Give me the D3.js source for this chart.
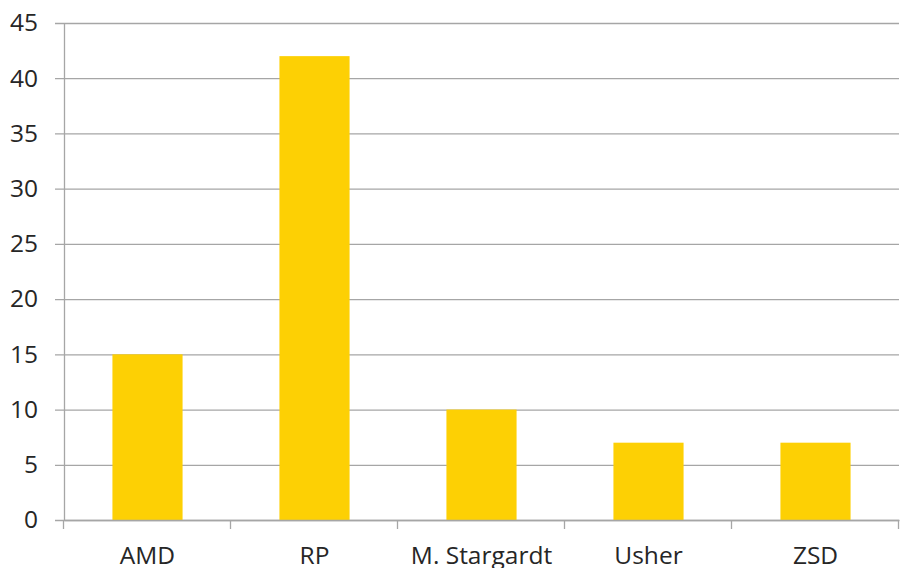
<!DOCTYPE html>
<html>
<head>
<meta charset="utf-8">
<script src="https://cdn.jsdelivr.net/npm/d3@7"></script>
<style>
  body { margin: 0; background: #fff; }
  svg { display: block; }
</style>
</head>
<body>
<script>
// chart data
const categories = ['AMD', 'RP', 'M. Stargardt', 'Usher', 'ZSD']
const values = [15, 42, 10, 7, 7]
const yTicks = [0, 5, 10, 15, 20, 25, 30, 35, 40, 45]

const width = 901
const height = 568
const margin = { top: 23, right: 2, bottom: 48, left: 64 }

const svg = d3.select('body')
  .append('svg')
    .attr('width', width)
    .attr('height', height)

const x = d3.scaleBand()
  .domain(categories)
  .range([ margin.left, width - margin.right ])
  .padding(0)

const y = d3.scaleLinear()
  .domain([ 0, 45 ])
  .range([ height - margin.bottom, margin.top ])

const gridColor = '#a6a6a6'
const fontFamily = '"Open Sans", "Noto Sans", sans-serif'
const fontSize = 24.5

// gridlines + y ticks
const yAxis = d3.axisLeft(y)
  .tickValues(yTicks)
  .tickSize(-(width - margin.right - margin.left))
  .tickPadding(26)

const gy = svg.append('g')
  .attr('transform', `translate(${margin.left},0)`)
  .call(yAxis)
  .attr('font-family', fontFamily)
  .attr('font-size', fontSize)
gy.select('.domain').remove()
gy.selectAll('.tick line')
  .attr('stroke', gridColor)
  .attr('stroke-width', 1.3)
  .attr('x1', -9)
gy.selectAll('.tick text')
  .attr('fill', '#262626')

// y axis line
svg.append('line')
  .attr('x1', margin.left + 0.5).attr('x2', margin.left + 0.5)
  .attr('y1', y(45)).attr('y2', y(0))
  .attr('stroke', gridColor)
  .attr('stroke-width', 1.3)

// bars
const barFrac = 0.42
svg.selectAll('.bar')
  .data(values)
  .enter()
  .append('rect')
    .attr('class', 'bar')
    .attr('x', (d, i) => x(categories[i]) + x.bandwidth() * (1 - barFrac) / 2)
    .attr('width', x.bandwidth() * barFrac)
    .attr('y', d => y(d))
    .attr('height', d => y(0) - y(d))
    .attr('fill', '#fdd004')

// x axis
const xAxis = d3.axisBottom(x).tickSize(0).tickPadding(27)
const gx = svg.append('g')
  .attr('transform', `translate(0,${y(0)})`)
  .call(xAxis)
  .attr('font-family', fontFamily)
  .attr('font-size', fontSize)
gx.select('.domain')
  .attr('stroke', gridColor)
  .attr('stroke-width', 1.3)
gx.selectAll('.tick text')
  .attr('fill', '#262626')

// category boundary ticks
const bounds = categories.map(c => x(c)).concat([ x.range()[1] ])
svg.selectAll('.xtick')
  .data(bounds)
  .enter()
  .append('line')
    .attr('x1', d => Math.round(d) - 0.5).attr('x2', d => Math.round(d) - 0.5)
    .attr('y1', y(0)).attr('y2', y(0) + 9)
    .attr('stroke', gridColor)
    .attr('stroke-width', 1.3)
</script>
</body>
</html>
